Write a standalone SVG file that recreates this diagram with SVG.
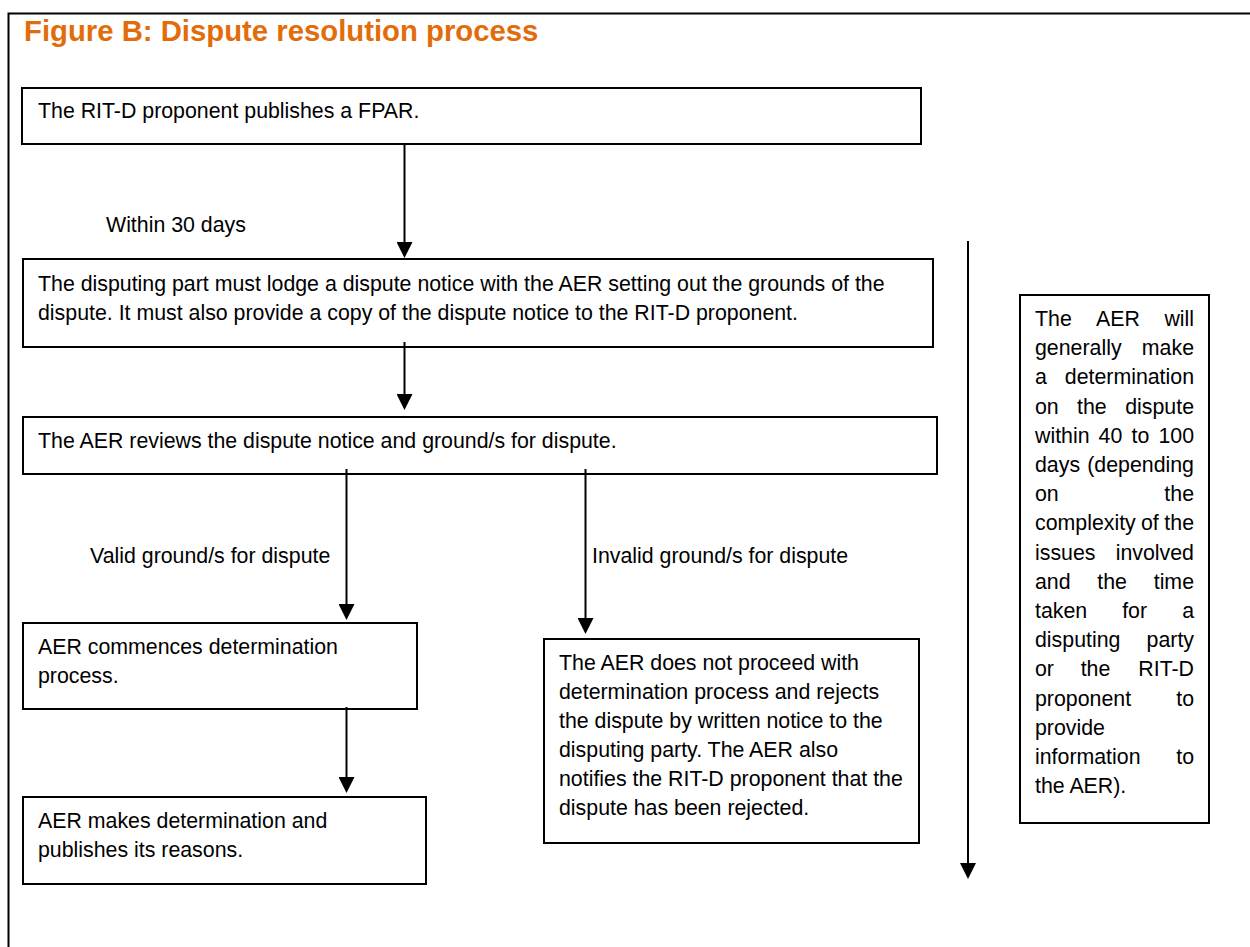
<svg xmlns="http://www.w3.org/2000/svg" width="1250" height="947" viewBox="0 0 1250 947">
<style>
.box{fill:#fff;stroke:#000;stroke-width:2}
.t{font-family:"Liberation Sans",Arial,sans-serif;font-size:21.33px;fill:#000}
.e{text-anchor:end}
.title{font-family:"Liberation Sans",Arial,sans-serif;font-size:29.3px;font-weight:bold;fill:#E36C0A}
.c{stroke:#000;stroke-width:2;fill:none;marker-end:url(#ah)}
</style>
<defs>
<marker id="ah" markerUnits="userSpaceOnUse" markerWidth="16" markerHeight="16" refX="8" refY="8" orient="auto">
<path d="M0,0 L16,8 L0,16 z" fill="#000"/>
</marker>
</defs>
<rect width="1250" height="947" fill="#fff"/>
<path d="M8.5,947 V13.5 H1250" fill="none" stroke="#000" stroke-width="2"/>
<text class="title" x="24" y="41">Figure B: Dispute resolution process</text>

<g id="n1">
<rect class="box" x="22" y="88" width="899" height="56"/>
<text class="t" x="38" y="118">The RIT-D proponent publishes a FPAR.</text>
</g>
<g id="n2">
<rect class="box" x="23" y="259" width="910" height="88"/>
<text class="t" x="38" y="291">The disputing part must lodge a dispute notice with the AER setting out the grounds of the</text>
<text class="t" x="38" y="320">dispute. It must also provide a copy of the dispute notice to the RIT-D proponent.</text>
</g>
<g id="n3">
<rect class="box" x="23" y="417" width="914" height="57"/>
<text class="t" x="38" y="448">The AER reviews the dispute notice and ground/s for dispute.</text>
</g>
<g id="n4">
<rect class="box" x="23" y="623" width="394" height="86"/>
<text class="t" x="38" y="654">AER commences determination</text>
<text class="t" x="38" y="683">process.</text>
</g>
<g id="n5">
<rect class="box" x="544" y="639" width="375" height="204"/>
<text class="t" x="559" y="670">The AER does not proceed with</text>
<text class="t" x="559" y="699">determination process and rejects</text>
<text class="t" x="559" y="728">the dispute by written notice to the</text>
<text class="t" x="559" y="757">disputing party. The AER also</text>
<text class="t" x="559" y="786">notifies the RIT-D proponent that the</text>
<text class="t" x="559" y="815">dispute has been rejected.</text>
</g>
<g id="n6">
<rect class="box" x="23" y="797" width="403" height="87"/>
<text class="t" x="38" y="828">AER makes determination and</text>
<text class="t" x="38" y="857">publishes its reasons.</text>
</g>
<g id="n7">
<rect class="box" x="1020" y="295" width="189" height="528"/>
<text class="t" x="1035" y="326">The</text><text class="t" x="1096" y="326">AER</text><text class="t e" x="1194" y="326">will</text>
<text class="t" x="1035" y="355.2">generally</text><text class="t e" x="1194" y="355.2">make</text>
<text class="t" x="1035" y="384.4">a</text><text class="t e" x="1194" y="384.4">determination</text>
<text class="t" x="1035" y="413.6">on</text><text class="t" x="1077" y="413.6">the</text><text class="t e" x="1194" y="413.6">dispute</text>
<text class="t" x="1035" y="442.8">within</text><text class="t" x="1098.6" y="442.8">40</text><text class="t" x="1131.5" y="442.8">to</text><text class="t e" x="1194" y="442.8">100</text>
<text class="t" x="1035" y="472">days</text><text class="t e" x="1194" y="472">(depending</text>
<text class="t" x="1035" y="501.2">on</text><text class="t e" x="1194" y="501.2">the</text>
<text class="t" x="1035" y="530.4">complexity</text><text class="t" x="1141" y="530.4">of</text><text class="t e" x="1194" y="530.4">the</text>
<text class="t" x="1035" y="559.6">issues</text><text class="t e" x="1194" y="559.6">involved</text>
<text class="t" x="1035" y="588.8">and</text><text class="t" x="1097.3" y="588.8">the</text><text class="t e" x="1194" y="588.8">time</text>
<text class="t" x="1035" y="618">taken</text><text class="t" x="1122.2" y="618">for</text><text class="t e" x="1194" y="618">a</text>
<text class="t" x="1035" y="647.2">disputing</text><text class="t e" x="1194" y="647.2">party</text>
<text class="t" x="1035" y="676.4">or</text><text class="t" x="1080.7" y="676.4">the</text><text class="t e" x="1194" y="676.4">RIT-D</text>
<text class="t" x="1035" y="705.6">proponent</text><text class="t e" x="1194" y="705.6">to</text>
<text class="t" x="1035" y="734.8">provide</text>
<text class="t" x="1035" y="764">information</text><text class="t e" x="1194" y="764">to</text>
<text class="t" x="1035" y="793.2">the AER).</text>
</g>

<g id="connectors">
<line class="c" x1="404.5" y1="144" x2="404.5" y2="250"/>
<line class="c" x1="404.5" y1="342" x2="404.5" y2="402"/>
<line class="c" x1="346.5" y1="469" x2="346.5" y2="612"/>
<line class="c" x1="585.5" y1="469" x2="585.5" y2="626"/>
<line class="c" x1="346.5" y1="707" x2="346.5" y2="785"/>
<line class="c" x1="968" y1="241" x2="968" y2="871"/>
<text class="t" x="106" y="232">Within 30 days</text>
<text class="t" x="90" y="563">Valid ground/s for dispute</text>
<text class="t" x="592" y="563">Invalid ground/s for dispute</text>
</g>
</svg>
